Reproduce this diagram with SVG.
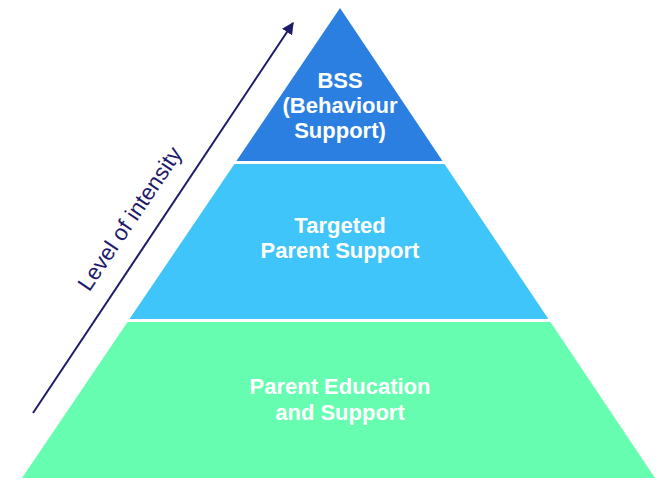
<svg xmlns="http://www.w3.org/2000/svg" width="660" height="480" viewBox="0 0 660 480">
  <style>
    .lbl { font-family: "Liberation Sans", Arial, sans-serif; font-size: 22px; font-weight: bold; fill: #ffffff; text-anchor: middle; }
    .axis { font-family: "Liberation Sans", Arial, sans-serif; font-size: 22.5px; fill: #1f1b6b; text-anchor: middle; }
  </style>
  <defs>
    <marker id="ah" viewBox="0 0 10 10" refX="9" refY="5" markerWidth="6" markerHeight="6" orient="auto" markerUnits="strokeWidth">
      <path d="M0,0 L10,5 L0,10 z" fill="#1f1b6b"/>
    </marker>
  </defs>
  <rect width="660" height="480" fill="#ffffff"/>
  <g id="tier-top">
    <polygon points="340,8 442.5,161 236.4,161" fill="#2b7fe1"/>
    <text class="lbl" x="340" y="88">BSS</text>
    <text class="lbl" x="340" y="113">(Behaviour</text>
    <text class="lbl" x="340" y="138">Support)</text>
  </g>
  <g id="tier-middle">
    <polygon points="234.4,164 444.5,164 548.4,319 129.5,319" fill="#40c5fa"/>
    <text class="lbl" x="340" y="233">Targeted</text>
    <text class="lbl" x="340" y="258">Parent Support</text>
  </g>
  <g id="tier-bottom">
    <polygon points="127.5,322 550.5,322 655,478 22,478" fill="#66fdb0"/>
    <text class="lbl" x="340" y="394">Parent Education</text>
    <text class="lbl" x="340" y="420">and Support</text>
  </g>
  <g id="connectors">
    <line x1="33" y1="413" x2="293" y2="23" stroke="#1f1b6b" stroke-width="2" marker-end="url(#ah)"/>
  </g>
  <g id="axis-label">
    <text class="axis" transform="translate(136,223) rotate(-56)">Level of intensity</text>
  </g>
</svg>
